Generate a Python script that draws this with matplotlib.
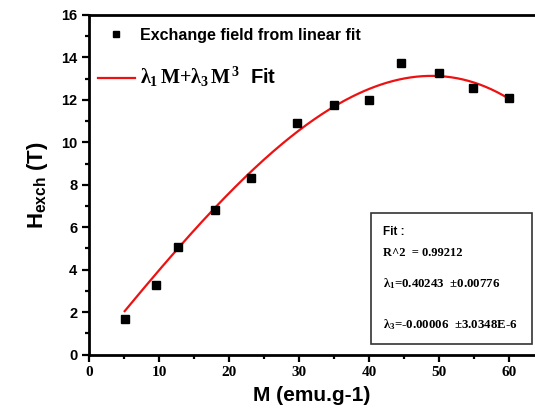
import numpy as np
import matplotlib.pyplot as plt
from matplotlib.patches import Rectangle
from matplotlib.lines import Line2D
from matplotlib.ticker import MultipleLocator

plt.rcParams['font.family'] = ['Liberation Sans', 'DejaVu Sans']
plt.rcParams['font.weight'] = 'bold'
plt.rcParams['mathtext.fontset'] = 'custom'
plt.rcParams['mathtext.rm'] = 'Liberation Serif:bold'
plt.rcParams['mathtext.it'] = 'Liberation Serif:bold'
plt.rcParams['mathtext.bf'] = 'Liberation Serif:bold'
plt.rcParams['mathtext.sf'] = 'Liberation Sans:bold'

# exchange field from linear fit vs magnetisation
M = [5.1, 9.6, 12.7, 18.0, 23.1, 29.7, 35.0, 40.0, 44.6, 50.0, 54.8, 60.0]
H = [1.67, 3.26, 5.06, 6.81, 8.31, 10.93, 11.74, 11.99, 13.73, 13.25, 12.54, 12.07]

# fit H = l1*M + l3*M^3
lam1 = 0.40243
lam3 = -0.000056
fit_lines = ["Fit :", "R^2  = 0.99212"]
lam1_text = "=0.40243  \u00b10.00776"
lam3_text = "=-0.00006  \u00b13.0348E-6"

fig = plt.figure(figsize=(5.35, 4.15), dpi=100)
W, Hpx = 535, 415
ax = fig.add_axes([89 / W, 60.5 / Hpx, (535 - 89) / W, (354.5 - 15) / Hpx])

mfit = np.linspace(min(M), max(M), 200)
ax.plot(mfit, lam1 * mfit + lam3 * mfit ** 3, color='#ee1111', lw=1.6, zorder=2)
ax.plot(M, H, 's', color='black', ms=5.5, zorder=3)

ax.set_xlim(0, (535 - 89) / 7.0)
ax.set_ylim(0, 16)
ax.xaxis.set_major_locator(MultipleLocator(10))
ax.xaxis.set_minor_locator(MultipleLocator(5))
ax.yaxis.set_major_locator(MultipleLocator(2))
ax.yaxis.set_minor_locator(MultipleLocator(1))
ax.tick_params(which='both', direction='out', width=1.6, labelsize=10.5, top=False, right=False)
ax.tick_params(which='major', length=5)
ax.tick_params(which='minor', length=3)
for lab in ax.get_xticklabels():
    lab.set_fontweight('bold')
    lab.set_family('Liberation Serif')
    lab.set_fontsize(11)
for lab in ax.get_yticklabels():
    lab.set_fontweight('bold')
for s in ['left', 'bottom', 'top']:
    ax.spines[s].set_linewidth(2)
ax.spines['right'].set_visible(False)

ax.set_xlabel("M (emu.g-1)", fontsize=15, fontweight='bold', labelpad=5)
ax.set_ylabel(r"H$_{\mathsf{exch}}$ (T)", fontsize=16, fontweight='bold', labelpad=8)

handles = [Line2D([], [], ls='none', marker='s', color='black', ms=5),
           Line2D([], [], color='#ee1111', lw=1.6)]
labels = ["Exchange field from linear fit",
          r"$\lambda_1\,M{+}\lambda_3\,M^3$  Fit"]
leg = ax.legend(handles, labels, loc='upper left', bbox_to_anchor=(-0.005, 0.995),
                frameon=False, prop={'weight': 'bold', 'size': 11.5},
                handlelength=2.3, handletextpad=0.35, labelspacing=1.35,
                borderaxespad=0.3)
leg.get_texts()[1].set_fontsize(14.5)

# fit results box
fig.patches.append(Rectangle((371 / W, 1 - 344 / Hpx), (532 - 371) / W, (344 - 213) / Hpx,
                             transform=fig.transFigure, fill=False, lw=1.2,
                             edgecolor='#333333'))
fig.text(383 / W, 1 - 232 / Hpx, fit_lines[0], fontsize=8.5, va='center')
fig.text(383 / W, 1 - 253 / Hpx, fit_lines[1], fontsize=9, va='center',
         family='Liberation Serif')
fig.text(383 / W, 1 - 284 / Hpx, r"$\lambda_1$" + lam1_text, fontsize=9.3, va='center',
         family='Liberation Serif')
fig.text(383 / W, 1 - 325 / Hpx, r"$\lambda_3$" + lam3_text, fontsize=9.3, va='center',
         family='Liberation Serif')

fig.savefig("out.png", dpi=100)
